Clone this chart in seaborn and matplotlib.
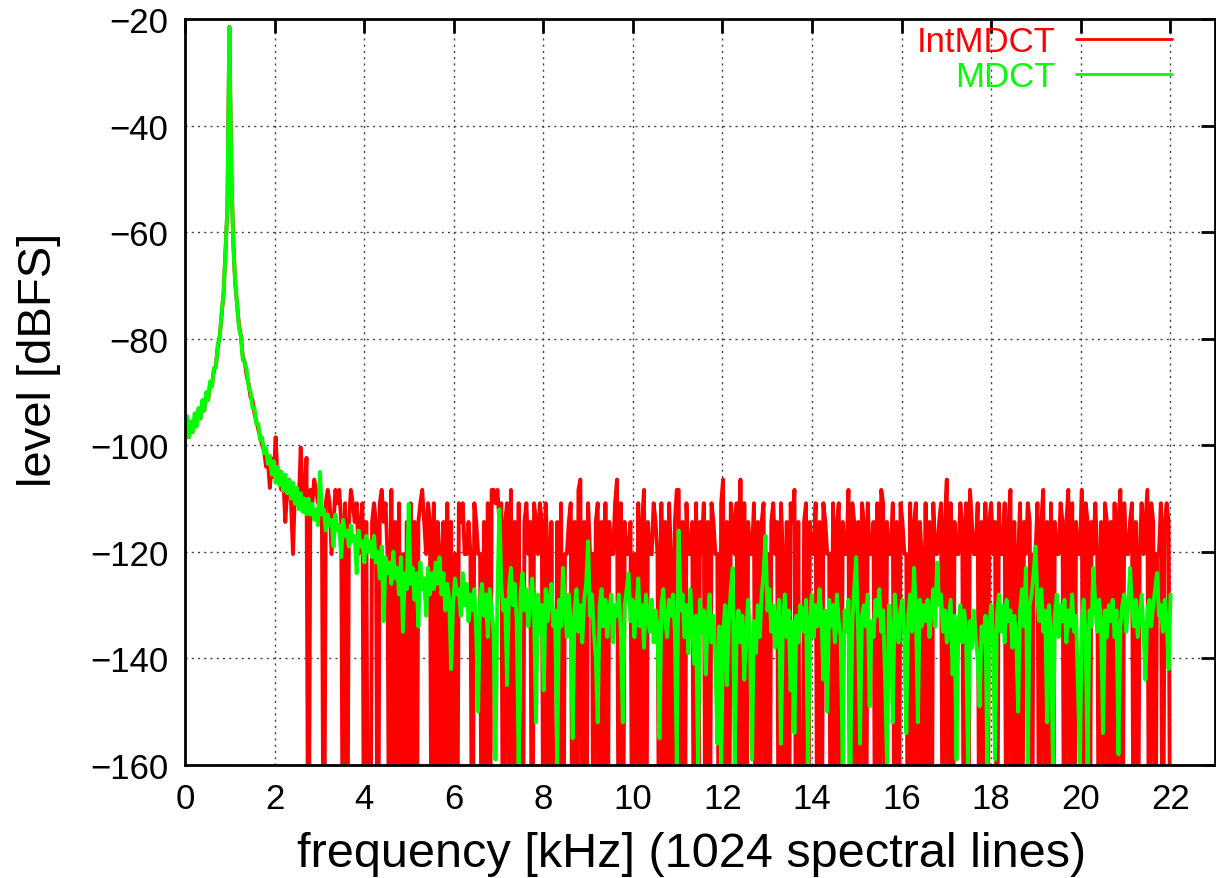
import numpy as np
import seaborn as sns
from matplotlib import pyplot as plt

sns.set_theme(style='white')
plt.rcParams['font.family'] = ['Liberation Sans', 'DejaVu Sans']
plt.rcParams['axes.unicode_minus'] = True
plt.rcParams['text.color'] = 'black'
plt.rcParams['axes.labelcolor'] = 'black'

# 1024 spectral lines up to 22.05 kHz, every second line is kept
n_lines = 1024
f_max_khz = 22.05

# MDCT level in dBFS (32 points per row)
mdct_db = [
    -97, -94.5, -98.5, -95.5, -97.5, -94, -96.5, -93, -95, -91.5, -93.5, -90, -91.5, -88, -89, -85.5,
    -85.5, -81, -80, -75, -71.5, -64, -55, -21.5, -48, -62, -69, -73.5, -78, -79.5, -84, -84.5,
    -86, -89, -90, -93, -93, -96, -96, -99, -98.5, -101.5, -100.5, -103.5, -102, -105.5, -103, -107,
    -104, -107.5, -105, -108.5, -105.5, -109, -106.5, -110, -107, -111, -108, -112, -109, -112.5, -110, -113,
    -110, -113, -111, -114, -112, -115, -105, -113, -112, -116, -113, -115, -114, -119, -113, -116,
    -115, -121, -114, -117, -116, -119, -115, -118, -117, -124, -116, -119, -118, -122, -117, -120,
    -118, -121, -117, -122, -120, -125, -119, -133, -121, -124, -122, -126, -120, -125, -123, -128,
    -121, -135, -124, -127, -111, -126, -123, -129, -124, -134, -122, -127, -125, -132, -123, -128,
    -124, -127, -122, -126, -121, -128, -124, -131, -126, -129, -142, -130, -125, -128, -127, -132,
    -124, -130, -126, -133, -128, -131, -127, -135, -150, -129, -126, -132, -128, -136, -127, -131,
    -135, -159, -128, -112, -126, -131, -129, -145, -127, -123, -130, -126, -133, -160, -128, -124,
    -131, -127, -134, -129, -125, -132, -152, -128, -135, -130, -146, -127, -133, -129, -126, -134,
    -131, -160, -129, -134, -123, -130, -136, -128, -133, -155, -131, -127, -135, -130, -137, -129,
    -126, -118, -132, -128, -135, -140, -152, -130, -127, -134, -129, -136, -131, -128, -137, -130,
    -132, -128, -135, -152, -130, -127, -124, -133, -129, -136, -131, -125, -134, -130, -138, -128,
    -132, -135, -129, -137, -131, -134, -155, -130, -127, -133, -136, -129, -132, -128, -135, -160,
    -116, -131, -128, -136, -130, -139, -127, -134, -141, -132, -160, -129, -135, -131, -143, -133,
    -128, -137, -132, -140, -156, -134, -160, -136, -130, -145, -133, -127, -123, -160, -135, -131,
    -137, -132, -144, -135, -129, -138, -159, -133, -139, -130, -136, -128, -124, -117, -131, -127,
    -135, -130, -138, -133, -129, -156, -134, -128, -136, -131, -146, -133, -154, -132, -137, -130,
    -131, -135, -129, -160, -133, -128, -136, -130, -134, -127, -132, -144, -131, -150, -129, -134,
    -130, -137, -128, -133, -136, -160, -131, -135, -129, -160, -133, -127, -121, -135, -156, -132,
    -130, -134, -128, -149, -133, -136, -129, -132, -127, -135, -131, -144, -160, -130, -134, -152,
    -128, -133, -137, -131, -129, -136, -154, -132, -128, -135, -123, -131, -152, -129, -134, -130,
    -133, -129, -136, -131, -127, -134, -122, -130, -128, -135, -131, -137, -133, -129, -143, -132,
    -159, -134, -130, -137, -131, -135, -160, -133, -138, -131, -136, -140, -149, -134, -137, -132,
    -160, -134, -130, -136, -159, -132, -128, -135, -130, -137, -129, -133, -131, -138, -132, -136,
    -150, -131, -127, -134, -123, -160, -130, -128, -124, -119, -129, -133, -127, -135, -131, -152,
    -130, -135, -160, -132, -128, -136, -130, -133, -129, -137, -131, -134, -128, -135, -132, -145,
    -160, -133, -129, -136, -160, -131, -134, -123, -130, -135, -129, -133, -154, -131, -136, -130,
    -133, -129, -136, -131, -158, -134, -130, -128, -135, -131, -123, -130, -134, -129, -136, -132,
    -128, -135, -144, -131, -129, -134, -130, -127, -124, -132, -130, -135, -129, -133, -142, -128,
]

# IntMDCT below 2 kHz in dBFS
intmdct_db_low = [
    -98, -95, -98.5, -96, -97.5, -95, -96, -93.5, -95, -92, -93.5, -90.5, -91.5, -88.5, -88.5, -86,
    -85, -81.5, -79.5, -75.5, -71.5, -63.5, -55.5, -21.5, -48.5, -61.5, -69.5, -73.5, -77.5, -79.5, -83.5, -84.5,
    -87, -88.5, -91, -91.5, -94, -95.5, -97, -98.5, -100, -101, -104, -103, -108, -102.5, -106, -98.5,
]

# IntMDCT above 2 kHz: integer magnitudes (1 = 2^-20 full scale, 0 = silence)
intmdct_int = [
    5, 6, 4, 5, 2, 4, 5, 3, 1, 4, 3, 3, 10, 4, 3, 8,
    0, 4, 3, 5, 4, 3, 4, 2, 0, 3, 4, 3, 1, 2, 4, 3, 4, 2, 0, 3, 0, 2, 4, 3, 2, 3, 1, 2, 3, 0, 2, 0,
    0, 2, 3, 2, 0, 3, 4, 2, 3, 1, 0, 4, 0, 2, 0, 3, 0, 1, 0, 2, 0, 3, 0, 2, 0, 2, 3, 4, 2, 1, 3, 2,
    0, 3, 0, 2, 1, 0, 2, 0, 3, 0, 2, 0, 1, 0, 3, 2, 3, 1, 1, 2, 1, 0, 3, 2, 1, 1, 0, 2, 0, 3, 0, 4,
    4, 3, 4, 2, 3, 0, 2, 3, 0, 4, 0, 2, 0, 3, 0, 0, 2, 3, 1, 2, 0, 3, 2, 1, 3, 2, 0, 3, 1, 0, 2, 0,
    0, 2, 0, 3, 0, 1, 1, 2, 3, 0, 2, 0, 4, 5, 0, 2, 0, 3, 1, 1, 0, 2, 3, 0, 2, 0, 3, 0, 2, 1, 1, 3,
    5, 0, 3, 0, 2, 1, 1, 2, 0, 1, 0, 3, 0, 2, 4, 0, 2, 1, 1, 3, 2, 1, 0, 3, 0, 2, 0, 3, 1, 0, 2, 4,
    4, 0, 2, 0, 3, 1, 1, 2, 0, 3, 0, 2, 1, 3, 0, 2, 0, 3, 2, 1, 1, 0, 3, 5, 0, 2, 0, 3, 2, 1, 3, 0,
    5, 0, 3, 0, 2, 1, 1, 3, 0, 2, 0, 2, 3, 0, 1, 0, 2, 3, 1, 2, 0, 3, 1, 0, 2, 0, 3, 2, 4, 0, 2, 0,
    0, 2, 3, 0, 2, 1, 1, 3, 0, 2, 0, 3, 2, 1, 1, 0, 3, 0, 2, 3, 0, 2, 1, 1, 4, 0, 3, 2, 0, 2, 0, 3,
    2, 0, 3, 1, 1, 2, 0, 3, 0, 4, 3, 0, 2, 1, 1, 3, 0, 2, 0, 3, 2, 1, 1, 0, 3, 0, 2, 3, 0, 2, 1, 0,
    3, 0, 2, 0, 3, 1, 1, 2, 3, 0, 2, 5, 0, 3, 0, 2, 1, 1, 3, 2, 0, 3, 0, 4, 2, 1, 1, 3, 0, 2, 0, 3,
    0, 2, 3, 1, 2, 0, 3, 1, 1, 3, 0, 2, 4, 0, 2, 0, 1, 3, 0, 2, 1, 3, 2, 0, 1, 1, 3, 0, 2, 4, 0, 2,
    0, 3, 0, 2, 1, 1, 3, 2, 0, 2, 4, 0, 3, 0, 2, 1, 1, 4, 0, 3, 2, 0, 2, 1, 3, 1, 0, 2, 0, 3, 2, 0,
    2, 0, 3, 0, 2, 4, 0, 3, 1, 1, 2, 3, 0, 2, 0, 1, 3, 1, 2, 4, 0, 3, 2, 0, 1, 1, 3, 0, 2, 3, 2, 0,
]

line_index = np.arange(0, n_lines, 2)
freq_khz = line_index * f_max_khz / n_lines

q = np.array(intmdct_int, dtype=float)
intmdct_db = np.concatenate([
    intmdct_db_low,
    np.where(q > 0, 20 * np.log10(np.maximum(q, 1) / 2 ** 20), -200.0),  # silence -> below the axis
])

fig = plt.figure(figsize=(12.16, 8.79), dpi=100)
ax = fig.add_axes([185 / 1216, 1 - 766 / 879, 1030 / 1216, 746 / 879])

sns.lineplot(x=freq_khz, y=intmdct_db, color='#ff0000', lw=2.8, label='IntMDCT',
             estimator=None, sort=False, ax=ax)
sns.lineplot(x=freq_khz, y=mdct_db, color='#00ff00', lw=2.8, label='MDCT',
             estimator=None, sort=False, ax=ax)

ax.set_xlim(0, 23)
ax.set_ylim(-160, -20)
ax.set_xticks(range(0, 23, 2))
ax.set_yticks(range(-160, -19, 20))
ax.grid(True, color='#444444', linestyle=(0, (1.5, 3)), lw=1)
ax.tick_params(direction='in', length=10, width=2, top=True, right=True,
               labelsize=25, pad=12, colors='black')
for s in ax.spines.values():
    s.set_linewidth(2)
    s.set_color('black')

ax.set_xlabel('frequency [kHz] (1024 spectral lines)', fontsize=35)
ax.set_ylabel('level [dBFS]', fontsize=34)
ax.xaxis.set_label_coords(0.492, -0.088)
ax.yaxis.set_label_coords(-0.12, 0.544)

leg = ax.legend(loc='upper right', bbox_to_anchor=(0.958, 0.992), markerfirst=False,
                frameon=False, fontsize=25, labelcolor='linecolor', handlelength=2.75,
                handletextpad=0.6, labelspacing=0.05, borderaxespad=0, borderpad=0)
for line in leg.get_lines():
    line.set_linewidth(2)

plt.savefig('out.png', dpi=100)
